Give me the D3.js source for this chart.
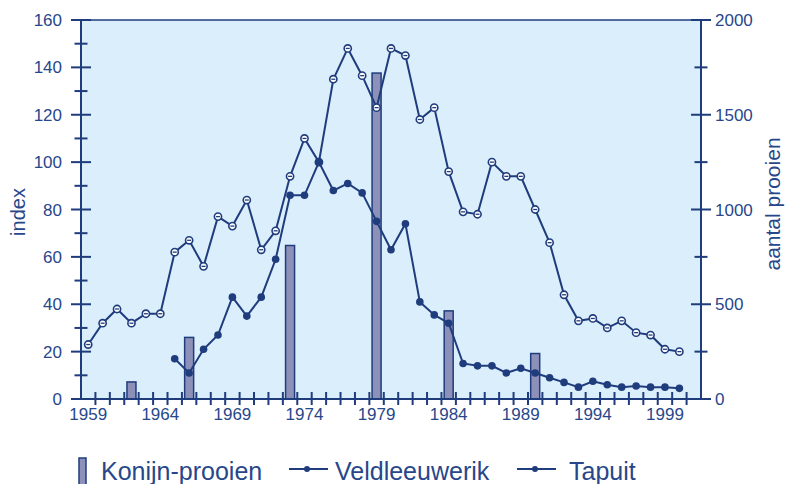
<!DOCTYPE html>
<html><head><meta charset="utf-8">
<script src="https://cdn.jsdelivr.net/npm/d3@7"></script>
<style>
body{margin:0;background:#fff}
svg{display:block}
text{font-family:"Liberation Sans",Arial,sans-serif;fill:#27478a}
</style>
</head><body>
<svg id="c" width="786" height="484"></svg>
<script>
// ---- data ----
const axisYears = d3.range(1959, 2002);            // 1959..2001 (band domain)
const yearLabels = [1959,1964,1969,1974,1979,1984,1989,1994,1999];
const veldYears = d3.range(1959, 2001);
const veldleeuwerik = [23,32,38,32,36,36,62,67,56,77,
                       73,84,63,71,94,110,100,135,148,136.5,
                       123,148,145,118,123,96,79,78,100,94,
                       94,80,66,44,33,34,30,33,28,27,
                       21,20];
const tapuitYears = d3.range(1965, 2001);
const tapuit = [17,11,21,27,43,35,43,59,86,86,
                100,88,91,87,75,63,74,41,35.5,32,
                15,14,14,11,13,11,9,7,5,7.5,
                6,5,5.5,5,5,4.5];
const konijnYears = [1962,1966,1973,1979,1984,1990];
const konijnValues = [90,325,810,1720,465,240];
const leftTicks = [0,20,40,60,80,100,120,140,160];
const rightTicks = [0,500,1000,1500,2000];
const legendLabels = ["Konijn-prooien","Veldleeuwerik","Tapuit"];

// ---- layout ----
const navy = "#1f3c7c";
const L = 81, R = 701, T = 20, B = 399;
const svg = d3.select("#c");

const x = d3.scaleBand().domain(axisYears).range([L, R]);
const xc = yr => x(yr) + x.bandwidth() / 2;
const yL = d3.scaleLinear().domain([0,160]).range([B, T]);
const yR = d3.scaleLinear().domain([0,2000]).range([B, T]);

// background
svg.append("rect").attr("x", L).attr("y", T).attr("width", R - L).attr("height", B - T)
  .attr("fill", "#dbeefc");
svg.append("line").attr("x1", L).attr("x2", R).attr("y1", T).attr("y2", T)
  .attr("stroke", navy).attr("stroke-width", 1.5);

// bars
const bw = 9;
svg.append("g").selectAll("rect").data(konijnYears).join("rect")
  .attr("x", (d) => xc(d) - bw / 2)
  .attr("width", bw)
  .attr("y", (d, i) => yR(konijnValues[i]))
  .attr("height", (d, i) => B - yR(konijnValues[i]))
  .attr("fill", "#8d91b9").attr("stroke", navy).attr("stroke-width", 1.5);

// lines
const veldData = veldYears.map((yr, i) => ({yr, v: veldleeuwerik[i]}));
const tapData = tapuitYears.map((yr, i) => ({yr, v: tapuit[i]}));
const line = d3.line().x(d => xc(d.yr)).y(d => yL(d.v));
svg.append("path").datum(veldData).attr("d", line).attr("fill", "none")
  .attr("stroke", navy).attr("stroke-width", 2);
svg.append("path").datum(tapData).attr("d", line).attr("fill", "none")
  .attr("stroke", navy).attr("stroke-width", 2);

// markers
const vm = svg.append("g").selectAll("g").data(veldData).join("g")
  .attr("transform", d => `translate(${xc(d.yr)},${yL(d.v)})`);
vm.append("circle").attr("r", 3.6).attr("fill", "#fff").attr("stroke", navy).attr("stroke-width", 1.6);
vm.append("line").attr("x1", -2).attr("x2", 2).attr("stroke", navy).attr("stroke-width", 1.3);
svg.append("g").selectAll("circle").data(tapData).join("circle")
  .attr("cx", d => xc(d.yr)).attr("cy", d => yL(d.v)).attr("r", 3.8).attr("fill", navy);

// axes
const ax = svg.append("g").attr("stroke", navy).attr("stroke-width", 2);
ax.append("line").attr("x1", L).attr("x2", L).attr("y1", T).attr("y2", B + 1);
ax.append("line").attr("x1", R).attr("x2", R).attr("y1", T).attr("y2", B + 1);
ax.append("line").attr("x1", L).attr("x2", R + 1).attr("y1", B).attr("y2", B);

// left ticks
const leftMinor = d3.range(10, 160, 20);
ax.selectAll(".lmaj").data(leftTicks).join("line")
  .attr("x1", L - 10).attr("x2", L + 10).attr("y1", d => yL(d)).attr("y2", d => yL(d));
ax.selectAll(".lmin").data(leftMinor).join("line")
  .attr("x1", L - 6.5).attr("x2", L + 6.5).attr("y1", d => yL(d)).attr("y2", d => yL(d));
// right ticks
const rightMinor = d3.range(250, 2000, 500);
ax.selectAll(".rmaj").data(rightTicks).join("line")
  .attr("x1", R - 10).attr("x2", R + 10).attr("y1", d => yR(d)).attr("y2", d => yR(d));
ax.selectAll(".rmin").data(rightMinor).join("line")
  .attr("x1", R - 6.5).attr("x2", R + 6.5).attr("y1", d => yR(d)).attr("y2", d => yR(d));
// x ticks
ax.selectAll(".xt").data(axisYears.slice(1)).join("line")
  .attr("x1", d => x(d)).attr("x2", d => x(d)).attr("y1", B - 7).attr("y2", B + 6);

// tick labels
svg.append("g").selectAll("text").data(leftTicks).join("text")
  .attr("x", 62).attr("y", d => yL(d)).attr("dy", "0.36em")
  .attr("text-anchor", "end").attr("font-size", 17).text(d => d);
svg.append("g").selectAll("text").data(rightTicks).join("text")
  .attr("x", 715).attr("y", d => yR(d)).attr("dy", "0.36em")
  .attr("font-size", 17).text(d => d);
svg.append("g").selectAll("text").data(yearLabels).join("text")
  .attr("x", d => xc(d)).attr("y", 420)
  .attr("text-anchor", "middle").attr("font-size", 17).text(d => d);

// axis titles
svg.append("text").attr("transform", "translate(25,212) rotate(-90)")
  .attr("text-anchor", "middle").attr("font-size", 20).text("index");
svg.append("text").attr("transform", "translate(780,204) rotate(-90)")
  .attr("text-anchor", "middle").attr("font-size", 21).text("aantal prooien");

// legend
const lg = svg.append("g");
lg.append("rect").attr("x", 79).attr("y", 458).attr("width", 7).attr("height", 30)
  .attr("fill", "#8d91b9").attr("stroke", navy).attr("stroke-width", 1.5);
lg.append("text").attr("x", 101).attr("y", 480).attr("font-size", 25).text(legendLabels[0]);
const lineItems = [{x0: 289, tx: 335, label: legendLabels[1]}, {x0: 517, tx: 569, label: legendLabels[2]}];
lineItems.forEach(it => {
  lg.append("line").attr("x1", it.x0).attr("x2", it.x0 + 39).attr("y1", 469).attr("y2", 469)
    .attr("stroke", navy).attr("stroke-width", 2);
  lg.append("circle").attr("cx", it.x0 + 18).attr("cy", 469).attr("r", 3).attr("fill", navy);
  lg.append("text").attr("x", it.tx).attr("y", 480).attr("font-size", 25).text(it.label);
});
</script>
</body></html>
